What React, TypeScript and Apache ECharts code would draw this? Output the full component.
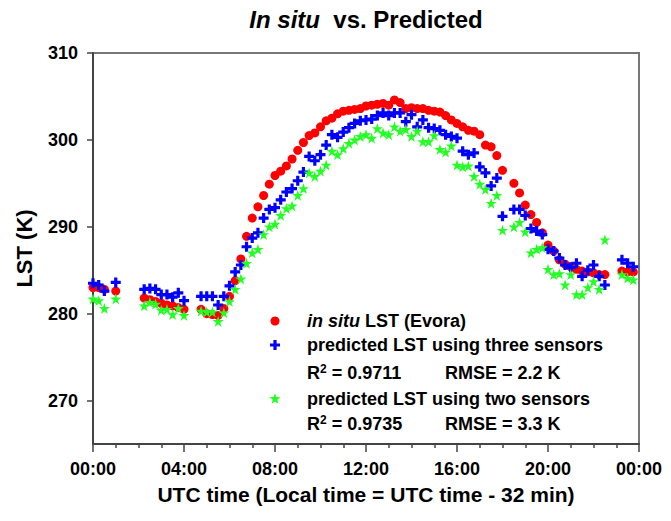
import React, { useEffect, useRef } from "react";
import * as echarts from "echarts";

// 15-minute sampling: index i -> i * STEP_HOURS hours UTC
const STEP_HOURS = 0.25;

// In situ LST (Evora), K — 96 slots (4 per hour), null = no observation
const IN_SITU: (number | null)[] = [
  283.0, 283.0, 282.8, null, // 00h
  282.6, null, null, null, // 01h
  null, 281.8, 281.6, 281.4, // 02h
  281.2, 281.0, 280.9, 280.7, // 03h
  280.5, null, null, 280.5, // 04h
  280.0, 279.9, 279.8, 280.6, // 05h
  282.0, 283.8, 286.3, 288.9, // 06h
  291.0, 292.3, 293.6, 294.9, // 07h
  295.9, 296.4, 297.0, 297.8, // 08h
  298.8, 299.7, 300.5, 300.8, // 09h
  301.5, 302.2, 302.5, 303.0, // 10h
  303.3, 303.4, 303.5, 303.6, // 11h
  303.9, 304.0, 304.1, 304.2, // 12h
  304.0, 304.6, 304.3, 303.6, // 13h
  303.7, 303.6, 303.6, 303.4, // 14h
  303.3, 303.2, 302.8, 302.3, // 15h
  301.9, 301.5, 301.1, 301.0, // 16h
  300.6, 299.4, 299.2, 298.2, // 17h
  296.5, null, 295.0, 293.9, // 18h
  292.5, 291.4, 290.5, 289.3, // 19h
  287.9, 287.2, 286.2, 285.7, // 20h
  285.4, 285.1, 284.9, 284.8, // 21h
  284.7, 284.5, 284.5, null, // 22h
  null, 284.9, 284.8, 284.8, // 23h
];

// Predicted LST using three sensors, K
const THREE_SENSORS: (number | null)[] = [
  283.5, 283.3, 282.6, null,
  283.6, null, null, null,
  null, 282.8, 282.9, 282.8,
  282.2, 282.2, 281.9, 282.4,
  281.5, null, null, 282.0,
  282.0, 282.0, 281.0, 282.0,
  283.2, 284.8, 285.6, 287.7,
  288.7, 289.3, 291.0, 292.0,
  292.2, 293.1, 294.0, 294.4,
  295.3, 296.3, 298.1, 297.6,
  298.3, 299.4, 300.6, 300.3,
  300.9, 301.4, 301.9, 302.2,
  302.3, 302.4, 302.8, 303.1,
  302.8, 303.1, 303.1, 302.1,
  302.9, 301.5, 302.3, 301.4,
  301.3, 301.1, 300.6, 300.4,
  300.2, 298.7, 298.3, 298.5,
  296.9, 296.2, 294.7, 295.6,
  291.2, null, 292.0, 292.0,
  291.3, 289.8, 289.5, 289.1,
  287.4, 287.2, 286.4, 285.6,
  285.3, 285.8, 284.3, 285.0,
  285.6, 284.3, 283.3, null,
  null, 286.2, 285.8, 285.4,
];

// Predicted LST using two sensors, K
const TWO_SENSORS: (number | null)[] = [
  281.7, 281.5, 280.6, null,
  281.7, null, null, null,
  null, 280.9, 281.3, 281.1,
  280.4, 280.5, 279.9, 280.6,
  279.8, null, null, 280.3,
  280.2, 280.2, 279.1, 280.1,
  281.4, 282.8, 284.0, 285.8,
  287.0, 287.4, 289.1, 290.0,
  290.3, 291.3, 292.1, 292.4,
  293.6, 294.4, 296.2, 295.8,
  296.4, 297.1, 298.7, 298.3,
  299.0, 299.6, 300.0, 300.4,
  300.6, 300.2, 301.3, 300.8,
  300.6, 301.5, 301.0, 301.2,
  300.4, 301.0, 299.8, 299.8,
  300.5, 298.9, 298.6, 299.3,
  297.1, 296.9, 297.0, 295.8,
  294.9, 294.3, 292.7, 293.6,
  289.6, null, 290.0, 290.5,
  289.4, 287.0, 287.4, 287.6,
  285.1, 284.5, 284.6, 283.3,
  284.5, 282.2, 282.2, 283.0,
  283.7, 282.8, 288.5, null,
  null, 284.5, 284.1, 283.9,
];

const Y_TICKS = [270, 280, 290, 300, 310];
const SERIES_NAMES = [
  "in situ LST (Evora)",
  "predicted LST using three sensors",
  "predicted LST using two sensors",
];
const STATS = [
  { r2: "0.9711", rmse: "RMSE = 2.2 K" },
  { r2: "0.9735", rmse: "RMSE = 3.3 K" },
];

const FONT = 'Arial, "Liberation Sans", sans-serif';
const RED = "#ff0000";
const BLUE = "#0000ff";
const GREEN = "#22ff22";
const PLUS_PATH = "path://M3.4,0H6.6V3.4H10V6.6H6.6V10H3.4V6.6H0V3.4H3.4Z";
const STAR_PATH =
  "path://M5,0L6.2,3.6L10,3.6L6.9,5.9L8.1,9.6L5,7.3L1.9,9.6L3.1,5.9L0,3.6L3.8,3.6Z";

function toPairs(vals: (number | null)[]) {
  const out: [number, number][] = [];
  vals.forEach((v, i) => {
    if (v != null) out.push([i * STEP_HOURS, v]);
  });
  return out;
}

function plusPoints(cx: number, cy: number, r: number, a: number) {
  return [
    [cx - a, cy - r], [cx + a, cy - r], [cx + a, cy - a], [cx + r, cy - a],
    [cx + r, cy + a], [cx + a, cy + a], [cx + a, cy + r], [cx - a, cy + r],
    [cx - a, cy + a], [cx - r, cy + a], [cx - r, cy - a], [cx - a, cy - a],
  ];
}

function starPoints(cx: number, cy: number, R: number, r: number) {
  const pts: number[][] = [];
  for (let k = 0; k < 10; k++) {
    const ang = -Math.PI / 2 + (k * Math.PI) / 5;
    const rad = k % 2 === 0 ? R : r;
    pts.push([cx + rad * Math.cos(ang), cy + rad * Math.sin(ang)]);
  }
  return pts;
}

export default function App() {
  const ref = useRef<HTMLDivElement>(null);

  useEffect(() => {
    if (!ref.current) return;
    const chart = echarts.init(ref.current, undefined, { renderer: "svg" });

    const legendX = 275;
    const textX = 307;
    const rowY = [321, 345, 373, 399, 424];
    const LFS = 18;
    const txtStyle = { fontFamily: FONT, fontWeight: "bold" as const, fontSize: LFS, fill: "#000" };

    const r2Rich = {
      n: { fontFamily: FONT, fontWeight: "bold", fontSize: LFS, color: "#000", lineHeight: 21 },
      s: { fontFamily: FONT, fontWeight: "bold", fontSize: 12, color: "#000", verticalAlign: "top", lineHeight: 12 },
    };

    chart.setOption({
      animation: false,
      backgroundColor: "#fff",
      grid: {
        left: 93,
        right: 32,
        top: 53,
        bottom: 77,
        show: true,
        borderColor: "#777",
        borderWidth: 2,
        backgroundColor: "transparent",
      },
      xAxis: {
        type: "value",
        min: 0,
        max: 24,
        interval: 4,
        name: "UTC time (Local time = UTC time - 32 min)",
        nameLocation: "middle",
        nameGap: 40,
        nameTextStyle: { fontFamily: FONT, fontWeight: "bold", fontSize: 21, color: "#000" },
        axisLine: { show: true, onZero: false, lineStyle: { color: "#444", width: 2 } },
        axisTick: { show: true, length: 8, lineStyle: { color: "#444", width: 1.5 } },
        minorTick: { show: true, splitNumber: 4, length: 4, lineStyle: { color: "#444", width: 1.5 } },
        splitLine: { show: false },
        axisLabel: {
          margin: 16,
          fontFamily: FONT,
          fontWeight: "bold",
          fontSize: 18,
          color: "#000",
          formatter: (v: number) => `${String(v % 24).padStart(2, "0")}:00`,
        },
      },
      yAxis: {
        type: "value",
        min: 265,
        max: 310,
        name: "LST (K)",
        nameLocation: "middle",
        nameRotate: 90,
        nameGap: 58,
        nameTextStyle: { fontFamily: FONT, fontWeight: "bold", fontSize: 22, color: "#000" },
        axisLine: { show: true, onZero: false, lineStyle: { color: "#444", width: 2 } },
        axisTick: { show: true, length: 6, customValues: Y_TICKS, lineStyle: { color: "#444", width: 1.5 } },
        splitLine: { show: false },
        axisLabel: {
          margin: 15,
          customValues: Y_TICKS,
          fontFamily: FONT,
          fontWeight: "bold",
          fontSize: 18,
          color: "#000",
        },
      },
      series: [
        {
          name: SERIES_NAMES[0],
          type: "scatter",
          symbol: "circle",
          symbolSize: 9,
          itemStyle: { color: RED, opacity: 1 },
          data: toPairs(IN_SITU),
        },
        {
          name: SERIES_NAMES[1],
          type: "scatter",
          symbol: PLUS_PATH,
          symbolSize: 10,
          itemStyle: { color: BLUE, opacity: 1 },
          data: toPairs(THREE_SENSORS),
        },
        {
          name: SERIES_NAMES[2],
          type: "scatter",
          symbol: STAR_PATH,
          symbolSize: 11,
          itemStyle: { color: GREEN, opacity: 1 },
          data: toPairs(TWO_SENSORS),
        },
      ],
      graphic: [
        {
          type: "text",
          x: 366,
          y: 19,
          style: {
            text: "{i|In situ}{n|  vs. Predicted}",
            align: "center",
            verticalAlign: "middle",
            rich: {
              i: { fontFamily: FONT, fontWeight: "bold", fontStyle: "italic", fontSize: 24, color: "#000" },
              n: { fontFamily: FONT, fontWeight: "bold", fontSize: 24, color: "#000" },
            },
          },
        },
        { type: "circle", shape: { cx: legendX, cy: rowY[0], r: 4.5 }, style: { fill: RED } },
        { type: "polygon", shape: { points: plusPoints(legendX, rowY[1], 5, 1.6) }, style: { fill: BLUE } },
        { type: "polygon", shape: { points: starPoints(legendX, rowY[3], 5.8, 2.4) }, style: { fill: GREEN } },
        {
          type: "text",
          x: textX,
          y: rowY[0],
          style: {
            text: "{i|in situ}{n| LST (Evora)}",
            verticalAlign: "middle",
            rich: {
              i: { fontFamily: FONT, fontWeight: "bold", fontStyle: "italic", fontSize: LFS, color: "#000" },
              n: { fontFamily: FONT, fontWeight: "bold", fontSize: LFS, color: "#000" },
            },
          },
        },
        { type: "text", x: textX, y: rowY[1], style: { ...txtStyle, text: SERIES_NAMES[1], verticalAlign: "middle" } },
        {
          type: "text",
          x: textX,
          y: rowY[2],
          style: { text: `{n|R}{s|2}{n| = ${STATS[0].r2}}`, verticalAlign: "middle", rich: r2Rich },
        },
        { type: "text", x: 445, y: rowY[2], style: { ...txtStyle, text: STATS[0].rmse, verticalAlign: "middle" } },
        { type: "text", x: textX, y: rowY[3], style: { ...txtStyle, text: SERIES_NAMES[2], verticalAlign: "middle" } },
        {
          type: "text",
          x: textX,
          y: rowY[4],
          style: { text: `{n|R}{s|2}{n| = ${STATS[1].r2}}`, verticalAlign: "middle", rich: r2Rich },
        },
        { type: "text", x: 445, y: rowY[4], style: { ...txtStyle, text: STATS[1].rmse, verticalAlign: "middle" } },
      ],
    });

    return () => chart.dispose();
  }, []);

  return <div ref={ref} style={{ width: 671, height: 521, position: "absolute", left: 0, top: 0 }} />;
}
